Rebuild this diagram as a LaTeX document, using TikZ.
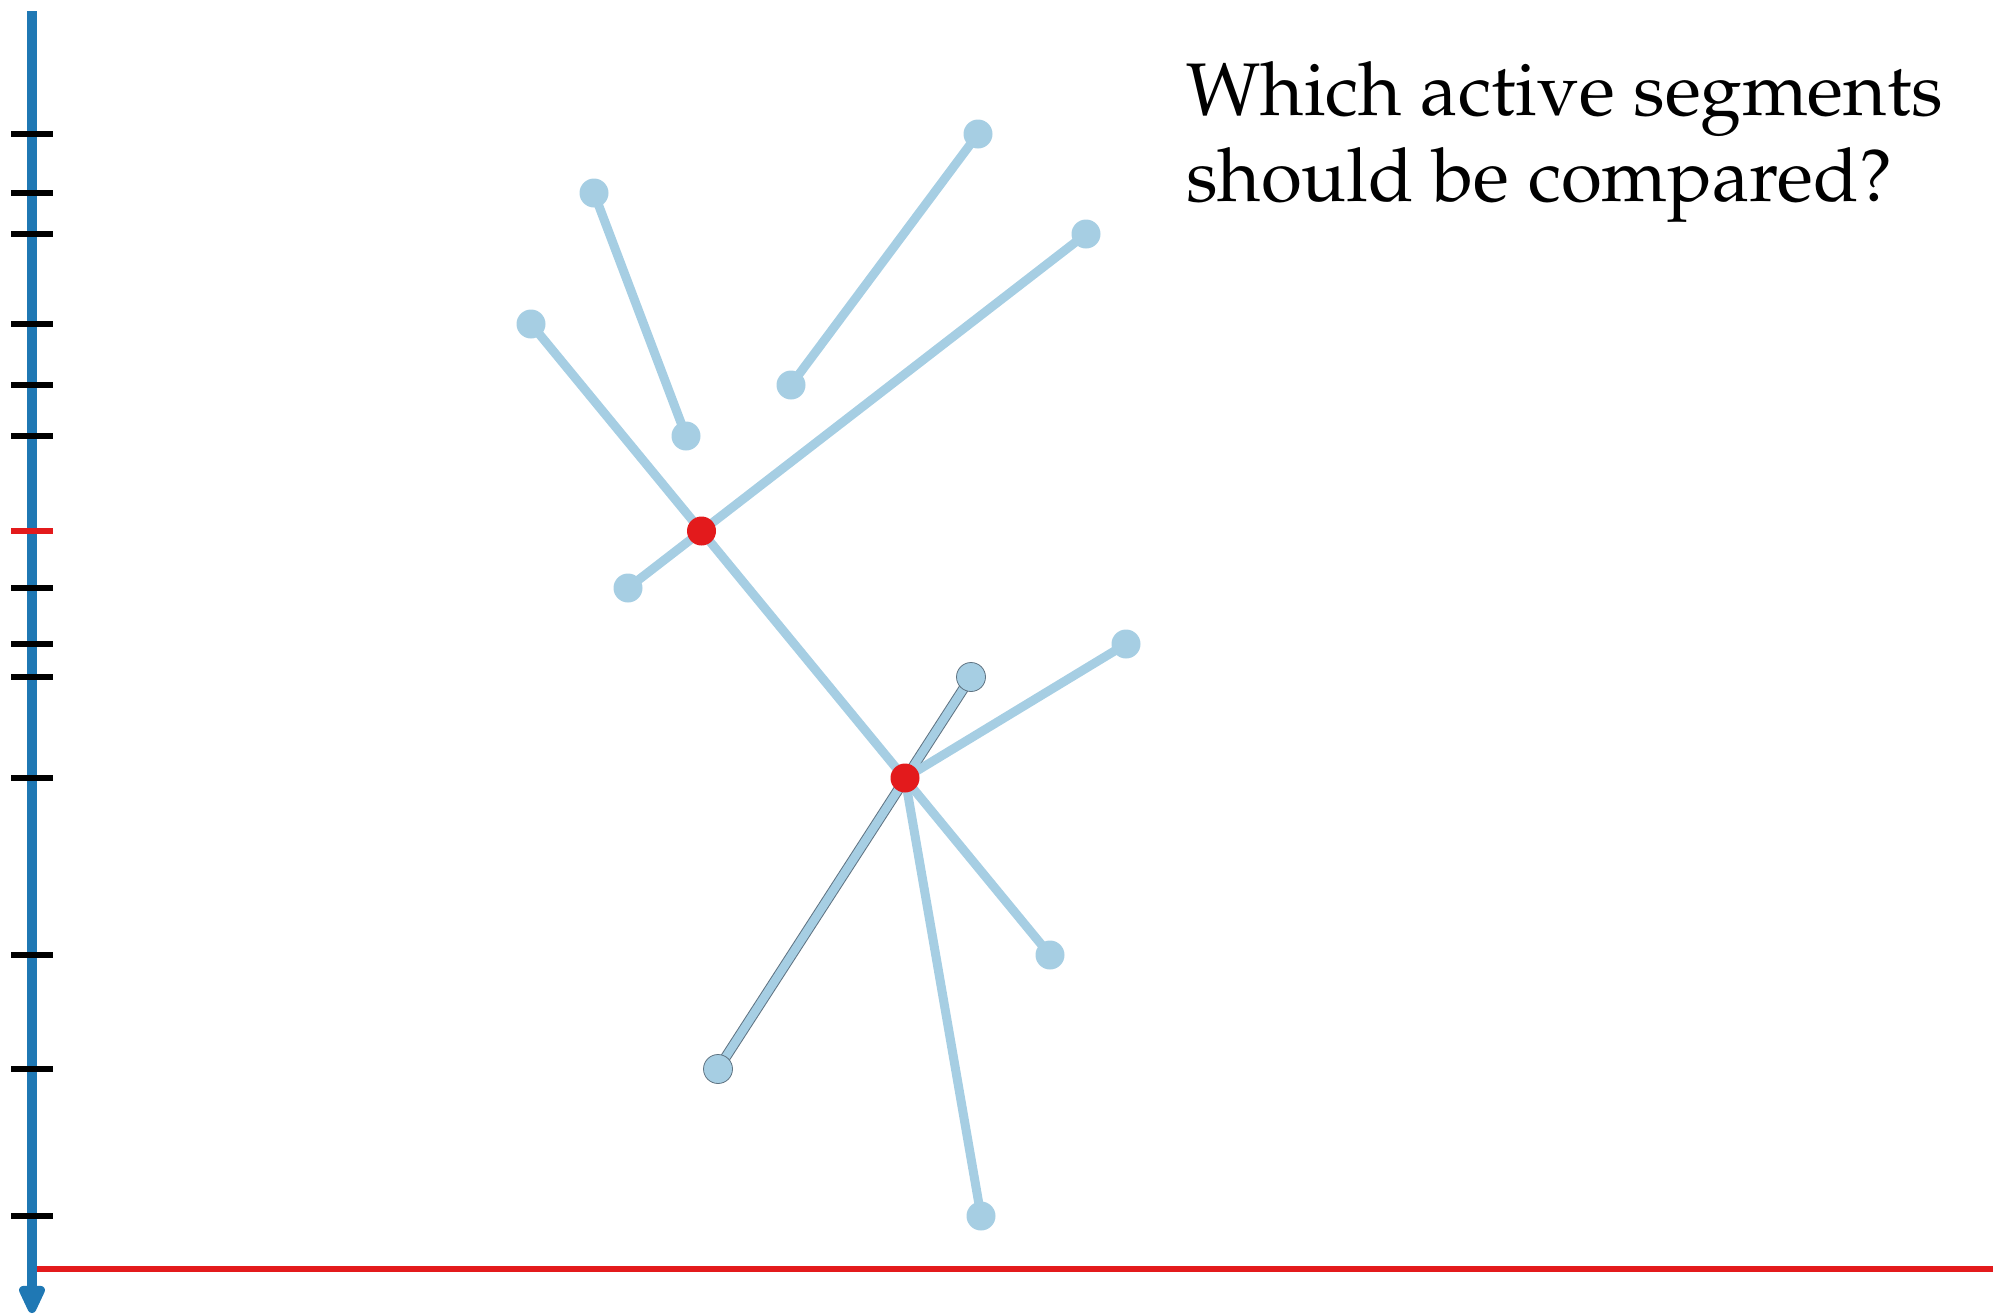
\documentclass[tikz,border=0pt]{standalone}
\usepackage[T1]{fontenc}
\usepackage{mathpazo}
\usetikzlibrary{arrows.meta}
\definecolor{axiscolor}{RGB}{31,120,180}
\definecolor{segcolor}{RGB}{166,206,227}
\definecolor{eventcolor}{RGB}{227,26,28}
\definecolor{rimcolor}{RGB}{95,115,130}
\tikzset{
  segment/.style={
    line width=9pt,
    segcolor
  },
  endpt/.style={
    circle,
    fill=segcolor,
    minimum size=29pt,
    inner sep=0pt
  },
  crosspt/.style={
    circle,
    fill=eventcolor,
    minimum size=29pt,
    inner sep=0pt
  },
  evtick/.style={
    line width=6pt,
    black
  }
}

\begin{document}
\begin{tikzpicture}[x=1pt, y=-1pt]
\useasboundingbox (0,0) rectangle (1993,1315);

% Points
\coordinate (a) at (594,193);
\coordinate (b) at (686,436);
\coordinate (c) at (978,134);
\coordinate (d) at (791,385);
\coordinate (e) at (1086,234);
\coordinate (f) at (628,588);
\coordinate (g) at (531,324);
\coordinate (j) at (1050,955);
\coordinate (h) at (971,677);
\coordinate (k) at (718,1069);
\coordinate (i) at (1126,644);
\coordinate (l) at (981,1216);
\coordinate (x1) at (701.5,531);
\coordinate (x2) at (905,778);

% Sweep line and axis
\coordinate (sweepL) at (32,1269);
\coordinate (sweepR) at (1993,1269);
\coordinate (top) at (32,11);
\coordinate (bottom) at (32,1313);
\draw[eventcolor, line width=6pt] (sweepL) -- (sweepR);
\draw[axiscolor, line width=10pt, -{Triangle[length=34pt, width=28pt, line join=round]}] (top) -- (bottom);

% Event ticks
\foreach \y in {134,193,234,324,385,436,588,644,677,778,955,1069,1216}
  \draw[evtick] (11,\y) -- (53,\y);
\draw[evtick, eventcolor] (11,531) -- (53,531);

% Segments
\draw[segment] (a) -- (b);
\draw[segment] (c) -- (d);
\draw[segment] (e) -- (f);
\draw[segment] (g) -- (j);
\draw[segment, rimcolor, line width=10.5pt] (h) -- (k);
\draw[segment, line width=8.5pt] (h) -- (k);
\draw[segment] (i) -- (x2);
\draw[segment] (x2) -- (l);

% Endpoints
\foreach \p in {a,b,c,d,e,f,g,j,i,l}
  \node[endpt] at (\p) {};
\node[endpt, draw=rimcolor, line width=0.8pt] (hdot) at (h) {};
\node[endpt, draw=rimcolor, line width=0.8pt] (kdot) at (k) {};

% Intersections
\node[crosspt] (cross1) at (x1) {};
\node[crosspt] (cross2) at (x2) {};

% Question
\node[anchor=north west, inner sep=0pt, align=left,
      font=\fontsize{74.5}{86}\selectfont] (question) at (1186,61)
  {Which active segments\\should be compared?};

\end{tikzpicture}
\end{document}
